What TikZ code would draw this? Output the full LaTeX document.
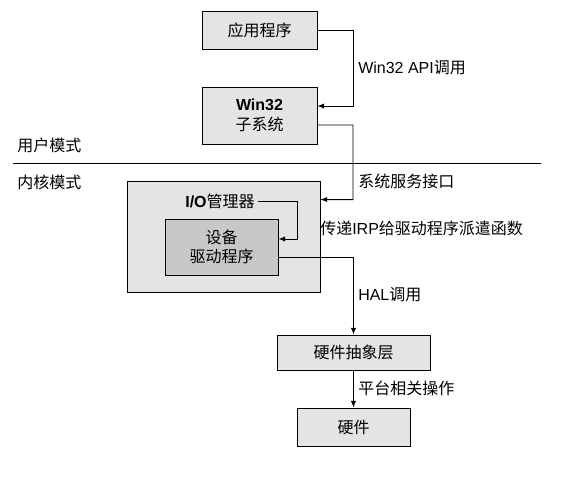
\documentclass[tikz,border=0pt]{standalone}
\usepackage{fontspec}
\setmainfont{Liberation Sans}
\newfontfamily\cjk{Noto Sans CJK SC}
\usetikzlibrary{arrows.meta}

\definecolor{boxgray}{RGB}{228,228,228}
\definecolor{drvgray}{RGB}{200,200,200}

\tikzset{
  layer/.style={draw=black, line width=0.7pt, fill=boxgray, inner sep=0pt, align=center,
    font=\fontsize{12}{14.5}\selectfont\cjk},
  link/.style={line width=0.7pt, -{Latex[length=5pt,width=4pt]}},
  note/.style={anchor=west, inner sep=0pt, font=\fontsize{12}{14.5}\selectfont\cjk}
}

\begin{document}
\begin{tikzpicture}[x=0.75pt, y=-0.75pt]
\useasboundingbox (0,0) rectangle (566,490);

% ── Mode split ──
\draw[line width=0.7pt] (13,163) -- (541,163);
\node[note] (user) at (17,145) {用户模式};
\node[note] (kern) at (17,182) {内核模式};

% ── Layers ──
\node[layer, minimum width=86.25pt, minimum height=28.5pt] (app) at (259.5,30) {应用程序};
\node[layer, minimum width=86.25pt, minimum height=42.75pt] (win) at (259.5,115.5)
  {{\rmfamily\bfseries Win32}\\子系统};
\node[layer, minimum width=144.75pt, minimum height=83.25pt] (exec) at (223.5,236.5) {};
\node[layer, fill=drvgray, minimum width=84.75pt, minimum height=42pt] (drv) at (221.5,247)
  {设备\\驱动程序};
\node[note, anchor=center] (iomgr) at (220,201) {{\rmfamily\bfseries I/O}管理器};
\node[layer, minimum width=114.75pt, minimum height=26.25pt] (hal) at (353.5,352.5) {硬件抽象层};
\node[layer, minimum width=84.75pt, minimum height=28.5pt] (hw) at (353.5,427) {硬件};

% ── Bends ──
\coordinate (busA) at (353,30);
\coordinate (busB) at (353,125);
\coordinate (busC) at (297,201);

% ── Calls ──
\draw[link] (app.east) -- (busA) |- ([yshift=7.1pt]win.east);
\draw[link] ([yshift=-7.1pt]win.east) -- (busB) |- ([yshift=-14.25pt]exec.north east);
\draw[link] ([xshift=2pt]iomgr.east) -- (busC) |- ([yshift=6pt]drv.east);
\draw[link] ([yshift=-7.5pt]drv.east) -| (hal.north);
\draw[link] (hal.south) -- (hw.north);

% ── Labels ──
\node[note] (apicall) at (358,68) {{\rmfamily Win32 API}调用};
\node[note] (sysif) at (358,181) {系统服务接口};
\node[note] (irp) at (320,228) {传递{\rmfamily IRP}给驱动程序派遣函数};
\node[note] (halcall) at (358,295) {{\rmfamily HAL}调用};
\node[note] (plat) at (358,388) {平台相关操作};

\end{tikzpicture}
\end{document}
